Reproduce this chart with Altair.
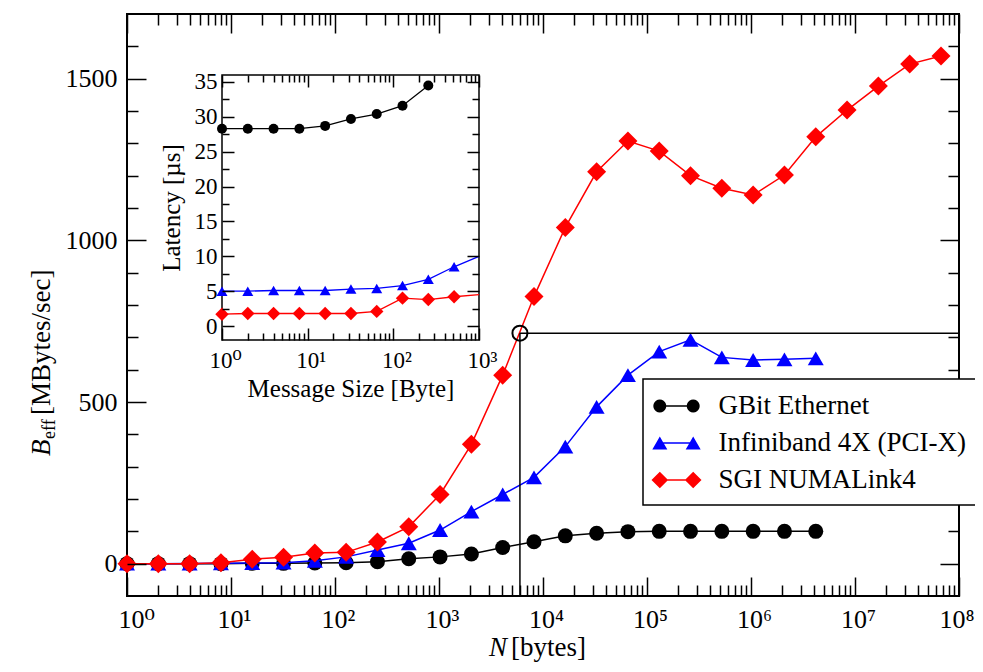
import math
import altair as alt
import pandas as pd

# ---------------- data ----------------
series_names = ["GBit  Ethernet", "Infiniband 4X (PCI-X)", "SGI NUMALink4"]
series_colors = ["#000000", "#0000ff", "#ff0000"]

n_bytes = [1, 2, 4, 8, 16, 32, 64, 128, 256, 512, 1024, 2048, 4096, 8192, 16384,
           32768, 65536, 131072, 262144, 524288, 1048576, 2097152, 4194304,
           8388608, 16777216, 33554432, 67108864]
gbit_bw = [0, 0, 0, 0, 1, 1, 2, 3, 6, 15, 21, 30, 50, 68, 86, 94, 99, 100, 100,
           100, 100, 100, 100]
ib_bw = [0, 0, 0.5, 1, 2, 3, 9, 21, 42, 63, 104, 161, 214, 267, 362, 485, 583,
         656, 692, 638, 630, 632, 635]
numa_bw = [0, 0, 0, 3, 14, 20, 33, 35, 67, 114, 214, 369, 583, 826, 1040, 1212,
           1307, 1276, 1200, 1161, 1140, 1202, 1320, 1403, 1477, 1545, 1570]

msg_bytes = [1, 2, 4, 8, 16, 32, 64, 128, 256, 512, 1024]
gbit_lat = [28.3, 28.3, 28.3, 28.3, 28.7, 29.7, 30.4, 31.6, 34.5]
ib_lat = [5.0, 5.0, 5.1, 5.1, 5.1, 5.3, 5.4, 5.8, 6.7, 8.5, 10.0]
numa_lat = [1.7, 1.8, 1.8, 1.8, 1.8, 1.8, 2.1, 4.0, 3.8, 4.2, 4.5]

marker_n = [6000]
marker_bw = [713]

main_x_domain = [1, 1e8]
main_y_domain = [-100, 1700]
inset_x_domain = [1, 1000]
inset_y_domain = [-2, 36]

main_x_major = [10.0 ** k for k in range(9)]
main_x_minor = [m * 10.0 ** k for k in range(8) for m in range(2, 10)]
main_y_major = [0, 500, 1000, 1500]
main_y_minor = [v for v in range(0, 1700, 100) if v % 500]
inset_x_major = [1, 10, 100, 1000]
inset_x_minor = [m * 10 ** k for k in range(3) for m in range(2, 10)]
inset_y_major = [0, 5, 10, 15, 20, 25, 30, 35]
inset_y_minor = [2.5, 7.5, 12.5, 17.5, 22.5, 27.5, 32.5]

x_title_italic, x_title_rest = "N", "[bytes]"
y_title_italic, y_title_sub, y_title_rest = "B", "eff", "[MBytes/sec]"
inset_x_title = "Message Size [Byte]"
inset_y_title = "Latency [µs]"

# ---------------- layout constants ----------------
W, H = 832, 582
FONT = "Liberation Serif, Times New Roman, Times, Nimbus Roman, DejaVu Serif, serif"
MAJ, MIN = 19, 11          # main tick lengths
IMAJ, IMIN = 12, 7         # inset tick lengths
IX0, IX1 = 95, 352         # inset pixel range (x)
IYB, IYT = 326, 61         # inset pixel range (y)
SUP = "['⁰','¹','²','³','⁴','⁵','⁶','⁷','⁸','⁹']"
POW_LABEL = "'10' + " + SUP + "[round(log(datum.value)/LN10)]"


def frame(xs, cols, xname, yname):
    out = []
    for name, vals in zip(series_names, cols):
        out.append(pd.DataFrame({xname: xs[:len(vals)], yname: vals, "series": name}))
    return out


main_dfs = frame(n_bytes, [gbit_bw, ib_bw, numa_bw], "N", "B")
inset_dfs = frame(msg_bytes, [gbit_lat, ib_lat, numa_lat], "M", "L")


def axis(orient, values, length, offset, **kw):
    base = dict(orient=orient, values=values, tickSize=length, offset=offset,
                domain=False, grid=False, ticks=True, tickColor="black",
                tickWidth=1.5, labels=False, title=None, zindex=1)
    base.update(kw)
    return alt.Axis(**base)


def xs_main():
    return alt.Scale(type="log", domain=main_x_domain, nice=False)


def ys_main():
    return alt.Scale(domain=main_y_domain, nice=False, zero=False)


def xs_in(clamp=False):
    return alt.Scale(type="log", domain=inset_x_domain, range=[IX0, IX1], nice=False, clamp=clamp)


def ys_in():
    return alt.Scale(domain=inset_y_domain, range=[IYB, IYT], nice=False, zero=False)


# main axes
ax_bottom_major = axis("bottom", main_x_major, MAJ, -MAJ, labels=True, labelExpr=POW_LABEL,
                       labelFontSize=26, labelPadding=10, labelFlush=True, labelFlushOffset=12,
                       labelOverlap=False, labelOffset=3)
ax_left_major = axis("left", main_y_major, MAJ, -MAJ, labels=True, labelFontSize=26,
                     labelPadding=10, labelOverlap=False, format="d")
ax_bottom_minor = axis("bottom", main_x_minor, MIN, -MIN)
ax_left_minor = axis("left", main_y_minor, MIN, -MIN)
ax_top_major = axis("top", main_x_major, MAJ, -MAJ)
ax_right_major = axis("right", main_y_major, MAJ, -MAJ)
ax_top_minor = axis("top", main_x_minor, MIN, -MIN)
ax_right_minor = axis("right", main_y_minor, MIN, -MIN)

# inset axes
iax_bottom_major = axis("bottom", inset_x_major, IMAJ, (IYB - H) - IMAJ, labels=True,
                        labelExpr=POW_LABEL, labelFontSize=23, labelPadding=9,
                        labelFlush=False, labelOverlap=False, labelOffset=3,
                        title=inset_x_title, titleFontSize=25, titlePadding=4)
iax_left_major = axis("left", inset_y_major, IMAJ, -IX0 - IMAJ, labels=True,
                      labelFontSize=23, labelPadding=5, labelOverlap=False,
                      title=inset_y_title, titleFontSize=25, titlePadding=10)
iax_bottom_minor = axis("bottom", inset_x_minor, IMIN, (IYB - H) - IMIN)
iax_left_minor = axis("left", inset_y_minor, IMIN, -IX0 - IMIN)
iax_top_major = axis("top", inset_x_major, IMAJ, -IYT - IMAJ)
iax_right_major = axis("right", inset_y_major, IMAJ, (IX1 - W) - IMAJ)
iax_top_minor = axis("top", inset_x_minor, IMIN, -IYT - IMIN)
iax_right_minor = axis("right", inset_y_minor, IMIN, (IX1 - W) - IMIN)

main_shapes = ["circle", "triangle-up", "diamond"]
main_sizes = [225, 256, 361]
inset_sizes = [100, 121, 180]

main_axes = [(ax_bottom_major, ax_left_major), (ax_bottom_minor, ax_left_minor),
             (ax_top_major, ax_right_major), (ax_top_minor, ax_right_minor),
             (None, None), (None, None)]
inset_axes = [(iax_bottom_minor, iax_left_minor), (None, None),
              (iax_top_major, iax_right_major), (iax_top_minor, iax_right_minor),
              (None, None), (None, None)]

layers = []

# ---- main series ----
k = 0
for i, df in enumerate(main_dfs):
    axx, axy = main_axes[k]; k += 1
    layers.append(alt.Chart(df).mark_line(color=series_colors[i], strokeWidth=1.5).encode(
        x=alt.X("N:Q", scale=xs_main(), axis=axx),
        y=alt.Y("B:Q", scale=ys_main(), axis=axy)))
    axx, axy = main_axes[k]; k += 1
    layers.append(alt.Chart(df).mark_point(color=series_colors[i], filled=True, opacity=1,
                                           shape=main_shapes[i], size=main_sizes[i]).encode(
        x=alt.X("N:Q", scale=xs_main(), axis=axx),
        y=alt.Y("B:Q", scale=ys_main(), axis=axy)))

# ---- half-bandwidth marker ----
marker_df = pd.DataFrame({"N": marker_n, "B": marker_bw,
                          "B0": [main_y_domain[0]] * len(marker_n),
                          "N1": [main_x_domain[1]] * len(marker_n)})
layers.append(alt.Chart(marker_df).mark_rule(color="black", strokeWidth=1.5).encode(
    x=alt.X("N:Q", scale=xs_main(), axis=None),
    y=alt.Y("B:Q", scale=ys_main(), axis=None), y2="B0:Q"))
layers.append(alt.Chart(marker_df).mark_rule(color="black", strokeWidth=1.5).encode(
    x=alt.X("N:Q", scale=xs_main(), axis=None), x2="N1:Q",
    y=alt.Y("B:Q", scale=ys_main(), axis=None)))
layers.append(alt.Chart(marker_df).mark_point(shape="circle", filled=False, color="black",
                                              strokeWidth=2, size=225, opacity=1).encode(
    x=alt.X("N:Q", scale=xs_main(), axis=None),
    y=alt.Y("B:Q", scale=ys_main(), axis=None)))

# ---- legend (built from the series names) ----
S = 15.0  # px per legend-path unit (sqrt(symbolSize)/2)
c_off, r_c, half_line = 16.7 / S, 6.5 / S, 0.8 / S


def circ(cx, r, n=20):
    pts = [(cx + r * math.cos(2 * math.pi * j / n), r * math.sin(2 * math.pi * j / n)) for j in range(n)]
    return "M" + " L".join(f"{x:.3f},{y:.3f}" for x, y in pts) + " Z"


def tri(cx, hw=7.5 / S, hh=6.5 / S):
    return f"M{cx-hw:.3f},{hh:.3f} L{cx:.3f},{-hh:.3f} L{cx+hw:.3f},{hh:.3f} Z"


def dia(cx, h=8.3 / S):
    return f"M{cx-h:.3f},0 L{cx:.3f},{-h:.3f} L{cx+h:.3f},0 L{cx:.3f},{h:.3f} Z"


seg = (f"M{-c_off:.3f},{-half_line:.3f} L{c_off:.3f},{-half_line:.3f} "
       f"L{c_off:.3f},{half_line:.3f} L{-c_off:.3f},{half_line:.3f} Z")
legend_paths = [circ(-c_off, r_c) + " " + circ(c_off, r_c) + " " + seg,
                tri(-c_off) + " " + tri(c_off) + " " + seg,
                dia(-c_off) + " " + dia(c_off) + " " + seg]

leg = alt.Legend(title=None, orient="none", legendX=516, legendY=365, padding=12,
                 symbolSize=900, symbolStrokeWidth=0, symbolOffset=6.5, symbolOpacity=1,
                 labelFont=FONT, labelFontSize=27, labelColor="black", labelOffset=27,
                 labelLimit=600, rowPadding=9, strokeColor="black", fillColor="white",
                 zindex=2, labelExpr="datum.label + '      '")
legend_df = pd.concat(main_dfs)
layers.append(alt.Chart(legend_df).mark_point(filled=True, opacity=0).encode(
    x=alt.X("N:Q", scale=xs_main(), axis=None),
    y=alt.Y("B:Q", scale=ys_main(), axis=None),
    color=alt.Color("series:N", scale=alt.Scale(domain=series_names, range=series_colors), legend=leg),
    shape=alt.Shape("series:N", scale=alt.Scale(domain=series_names, range=legend_paths), legend=leg)))

# ---- inset ----
inset_frame_df = pd.DataFrame({"x": [inset_x_domain[0]], "x2": [inset_x_domain[1]],
                               "y": [inset_y_domain[0]], "y2": [inset_y_domain[1]]})
layers.append(alt.Chart(inset_frame_df).mark_rect(fill="white", stroke="black", strokeWidth=1.5).encode(
    x=alt.X("x:Q", scale=xs_in(), axis=iax_bottom_major), x2="x2:Q",
    y=alt.Y("y:Q", scale=ys_in(), axis=iax_left_major), y2="y2:Q"))

k = 0
for i, df in enumerate(inset_dfs):
    axx, axy = inset_axes[k]; k += 1
    layers.append(alt.Chart(df).mark_line(color=series_colors[i], strokeWidth=1.3).encode(
        x=alt.X("M:Q", scale=xs_in(clamp=True), axis=axx),
        y=alt.Y("L:Q", scale=ys_in(), axis=axy)))
    axx, axy = inset_axes[k]; k += 1
    layers.append(alt.Chart(df).transform_filter(alt.datum.M <= inset_x_domain[1]).mark_point(
        color=series_colors[i], filled=True, opacity=1, shape=main_shapes[i], size=inset_sizes[i]).encode(
        x=alt.X("M:Q", scale=xs_in(), axis=axx),
        y=alt.Y("L:Q", scale=ys_in(), axis=axy)))

# ---- axis titles with italic / subscript parts ----
tdf = pd.DataFrame({"t": [0]})


def text(s, x, y, size, angle=0, style="normal", align="left"):
    return alt.Chart(tdf).mark_text(text=s, font=FONT, fontSize=size, fontStyle=style,
                                    angle=angle, align=align, baseline="alphabetic",
                                    color="black").encode(x=alt.value(x), y=alt.value(y))


layers.append(text(x_title_italic, 362, 642, 27, style="italic"))
layers.append(text(x_title_rest, 384, 642, 27))
layers.append(text(y_title_italic, -77, 442, 27, angle=270, style="italic"))
layers.append(text(y_title_sub, -72, 425, 18, angle=270))
layers.append(text(y_title_rest, -77, 401, 27, angle=270))

chart = alt.layer(*layers).resolve_scale(
    x="independent", y="independent", color="independent", shape="independent"
).resolve_axis(x="independent", y="independent").properties(
    width=W, height=H,
    padding={"left": 119, "top": 6, "right": 16, "bottom": 68},
    autosize=alt.AutoSizeParams(type="none"),
).configure_view(stroke="black", strokeWidth=2).configure_axis(
    labelFont=FONT, labelColor="black", titleFont=FONT, titleColor="black",
    titleFontWeight="normal"
).configure_legend(strokeWidth=1.5)

chart.save("out.html", embed_options={"renderer": "svg", "actions": False})
